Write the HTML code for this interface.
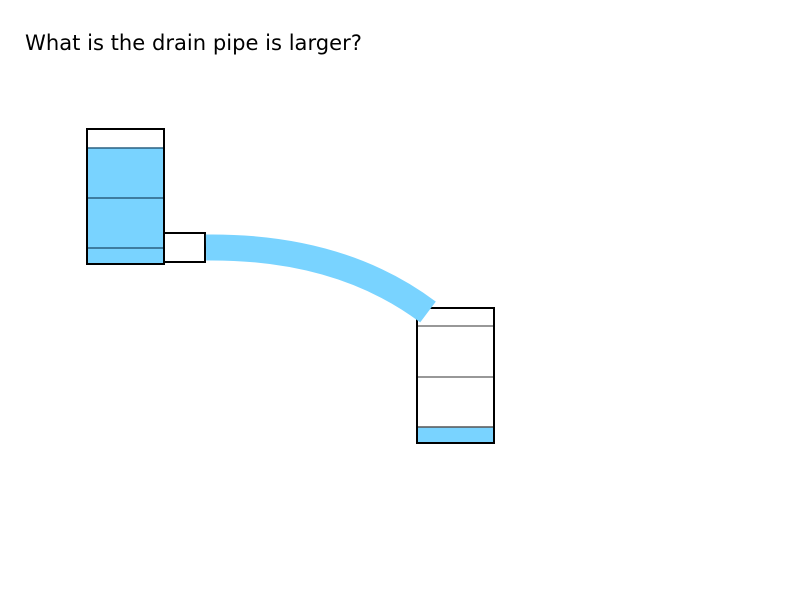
<!DOCTYPE html>
<html><head><meta charset="utf-8"><style>
html,body{margin:0;padding:0;background:#fff;}
svg{display:block;}
</style></head><body>
<svg width="800" height="600" viewBox="0 0 800 600" xmlns="http://www.w3.org/2000/svg">
<rect width="800" height="600" fill="#fff"/>
<text x="25" y="50" font-family="DejaVu Sans, sans-serif" font-size="21" textLength="337" lengthAdjust="spacingAndGlyphs" fill="#000">What is the drain pipe is larger?</text>
<!-- left tank -->
<rect x="87" y="148" width="77" height="116" fill="#79d3ff"/>
<line x1="87" y1="148" x2="164" y2="148" stroke="#2a6080" stroke-width="1.5"/>
<line x1="87" y1="198" x2="164" y2="198" stroke="#2a6080" stroke-width="1.5"/>
<line x1="87" y1="248" x2="164" y2="248" stroke="#2a6080" stroke-width="1.5"/>
<rect x="87" y="129" width="77" height="135" fill="none" stroke="#000" stroke-width="2"/>
<rect x="164" y="233" width="41" height="29" fill="#fff" stroke="#000" stroke-width="2"/>
<!-- right tank -->
<rect x="417" y="427" width="77" height="16" fill="#79d3ff"/>
<line x1="417" y1="326" x2="494" y2="326" stroke="#777" stroke-width="1.5"/>
<line x1="417" y1="377" x2="494" y2="377" stroke="#777" stroke-width="1.5"/>
<line x1="417" y1="427" x2="494" y2="427" stroke="#555" stroke-width="1.5"/>
<rect x="417" y="308" width="77" height="135" fill="none" stroke="#000" stroke-width="2"/>
<!-- flow -->
<path d="M206 247.5 Q 340 246 428 312" fill="none" stroke="#79d3ff" stroke-width="26" stroke-linecap="butt"/>
</svg>
</body></html>
